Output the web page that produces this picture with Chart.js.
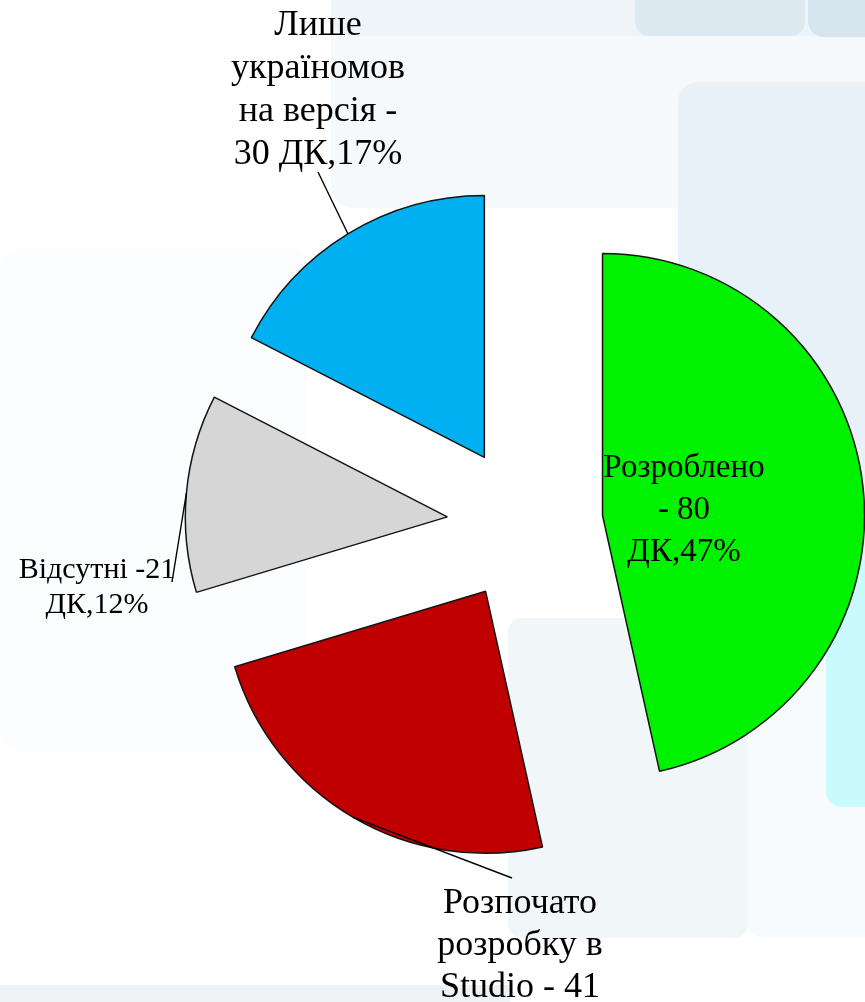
<!DOCTYPE html>
<html>
<head>
<meta charset="utf-8">
<script src="https://cdn.jsdelivr.net/npm/chart.js@4.4.1/dist/chart.umd.min.js"></script>
<style>
  html, body { margin:0; padding:0; background:#ffffff; }
  #wrap { position:relative; width:865px; height:1002px; overflow:hidden; }
  .bg { position:absolute; }
  canvas { position:absolute; left:0; top:0; }
</style>
</head>
<body>
<div id="wrap">
  <div class="bg" style="left:0;top:250px;width:307px;height:500px;background:#fcfdfe;border-radius:16px;"></div>
  <div class="bg" style="left:331px;top:0;width:534px;height:208px;background:#f6f9fb;border-radius:0 0 0 22px;"></div>
  <div class="bg" style="left:331px;top:0;width:534px;height:36px;background:#eef4f8;border-radius:0 0 0 20px;"></div>
  <div class="bg" style="left:635px;top:0;width:170px;height:36px;background:#dde9f0;border-radius:0 0 14px 14px;"></div>
  <div class="bg" style="left:808px;top:0;width:57px;height:37px;background:#d6e5ee;border-radius:0 0 0 16px;"></div>
  <div class="bg" style="left:678px;top:82px;width:187px;height:580px;background:#e8f1f7;border-radius:20px 0 0 20px;"></div>
  <div class="bg" style="left:508px;top:618px;width:240px;height:320px;background:#f1f6f9;border-radius:14px;"></div>
  <div class="bg" style="left:747px;top:600px;width:118px;height:337px;background:#f8fbfd;border-radius:14px 0 0 14px;"></div>
  <div class="bg" style="left:826px;top:560px;width:39px;height:247px;background:#c9fafc;border-radius:0 0 0 16px;"></div>
  <div class="bg" style="left:0;top:985px;width:510px;height:17px;background:#eef2f4;"></div>
  <canvas id="c" width="865" height="1002"></canvas>
</div>
<script>
// ---- data ----
const categories = ['Розроблено', 'Розпочато розробку в Studio', 'Відсутні', 'Лише україномовна версія'];
const values = [80, 41, 21, 30];
const sliceColors = ['#00F200', '#C00000', '#D6D6D6', '#00B0F0'];
const labelLines = [
  ['Розроблено', '- 80', 'ДК,47%'],
  ['Розпочато', 'розробку в', 'Studio - 41'],
  ['Відсутні -21', 'ДК,12%'],
  ['Лише', 'україномов', 'на версія -', '30 ДК,17%']
];

// ---- layout / style ----
const EXPLODE = 78;
const labelLayout = [
  { x: 684, y: 477, lh: 42, size: 33, leader: null },
  { x: 520, y: 913, lh: 42, size: 36, leader: [512, 878] },
  { x: 97,  y: 578, lh: 35, size: 30, leader: [172, 582] },
  { x: 318, y: 35,  lh: 43, size: 36, leader: [318, 172] }
];

const explodePlugin = {
  id: 'explode',
  afterDatasetUpdate(chart, args) {
    args.meta.data.forEach(arc => {
      const mid = (arc.startAngle + arc.endAngle) / 2;
      arc.x += Math.cos(mid) * EXPLODE;
      arc.y += Math.sin(mid) * EXPLODE;
    });
  }
};

const labelPlugin = {
  id: 'sliceLabels',
  afterDatasetsDraw(chart) {
    const ctx = chart.ctx;
    const arcs = chart.getDatasetMeta(0).data;
    ctx.save();
    arcs.forEach((arc, i) => {
      const L = labelLayout[i];
      if (L.leader) {
        const mid = (arc.startAngle + arc.endAngle) / 2;
        const px = arc.x + Math.cos(mid) * arc.outerRadius;
        const py = arc.y + Math.sin(mid) * arc.outerRadius;
        ctx.beginPath();
        ctx.moveTo(px, py);
        ctx.lineTo(L.leader[0], L.leader[1]);
        ctx.strokeStyle = '#000';
        ctx.lineWidth = 1.4;
        ctx.stroke();
      }
      ctx.fillStyle = '#000';
      ctx.textAlign = 'center';
      ctx.textBaseline = 'alphabetic';
      ctx.font = L.size + 'px "Liberation Serif", "Times New Roman", serif';
      labelLines[i].forEach((t, k) => ctx.fillText(t, L.x, L.y + k * L.lh));
    });
    ctx.restore();
  }
};

new Chart(document.getElementById('c'), {
  type: 'pie',
  data: {
    labels: categories,
    datasets: [{
      data: values,
      backgroundColor: sliceColors,
      borderColor: '#141414',
      borderWidth: 1.5,
      radius: 262
    }]
  },
  options: {
    responsive: false,
    animation: false,
    layout: { padding: { left: 185, top: 46, right: 0, bottom: 0 } },
    plugins: { legend: { display: false }, tooltip: { enabled: false } }
  },
  plugins: [explodePlugin, labelPlugin]
});
</script>
</body>
</html>
